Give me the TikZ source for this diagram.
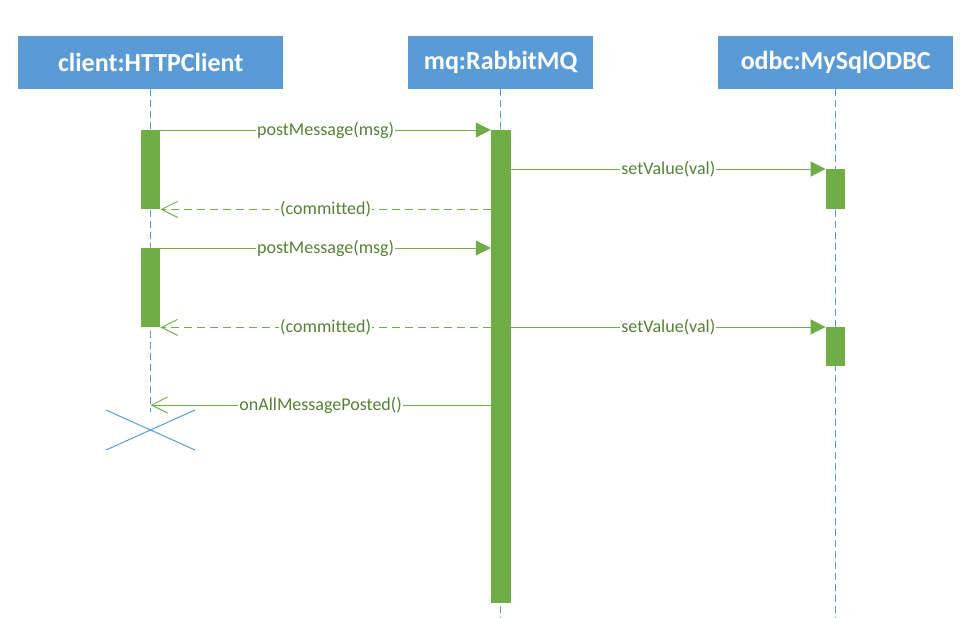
\documentclass[tikz,border=0pt]{standalone}
\usepackage{fontspec}
\setmainfont{Carlito}[Ligatures={NoCommon}]
\usetikzlibrary{arrows.meta,calc}
\definecolor{headblue}{HTML}{5B9BD5}
\definecolor{actgreen}{HTML}{70AD47}
\definecolor{txtgreen}{HTML}{548235}
\tikzset{
  head/.style={fill=headblue, draw=none, text=white, font=\fontsize{26}{28}\selectfont\bfseries, minimum height=53pt, inner sep=0pt, anchor=north west},
  lifeline/.style={draw=headblue, line width=1pt, dash pattern=on 7pt off 4pt},
  actbar/.style={fill=actgreen, draw=none, minimum width=19.5pt, inner sep=0pt, anchor=north},
  callmsg/.style={draw=actgreen, line width=1pt, -{Triangle[length=15pt,width=15pt]}},
  retmsg/.style={draw=actgreen, line width=1pt, dash pattern=on 8pt off 5pt, -{Straight Barb[length=16pt,width=16pt]}},
  plainret/.style={draw=actgreen, line width=1pt, -{Straight Barb[length=16pt,width=16pt]}},
  msglabel/.style={fill=white, text=txtgreen, inner sep=1pt, font=\fontsize{18}{20}\selectfont},
}
\begin{document}
\begin{tikzpicture}[x=1pt,y=-1pt]
\useasboundingbox (0,0) rectangle (975,618);
% heads
\node[head, minimum width=265pt] (hc) at (18,36) {client:HTTPClient};
\node[head, minimum width=185pt] (hm) at (408,36) {mq:RabbitMQ};
\node[head, minimum width=235pt] (ho) at (718,36) {odbc:MySqlODBC};
% lifeline ends
\coordinate (xc) at (150.5,430);
\coordinate (lce) at (150.5,412);
\coordinate (lme) at (500.5,618);
\coordinate (loe) at (835.5,618);
\draw[lifeline] (hc.south -| lce) -- (lce);
\draw[lifeline] (hm.south -| lme) -- (lme);
\draw[lifeline] (ho.south -| loe) -- (loe);
% activation bars
\node[actbar, minimum height=79pt] (c1) at (150.5,130) {};
\node[actbar, minimum height=79pt] (c2) at (150.5,248) {};
\node[actbar, minimum height=473pt, minimum width=20pt] (m1) at (501,130) {};
\node[actbar, minimum height=40pt] (o1) at (835.5,169) {};
\node[actbar, minimum height=39pt] (o2) at (835.5,327) {};
% destruction
\draw[headblue, line width=1pt] ($(xc)+(-44.5,-20)$) -- ($(xc)+(44.5,20)$);
\draw[headblue, line width=1pt] ($(xc)+(-44.5,20)$) -- ($(xc)+(44.5,-20)$);
% messages
\draw[callmsg] (c1.north east) -- node[msglabel]{postMessage(msg)} (c1.north east -| m1.west);
\draw[callmsg] (m1.east |- o1.north west) -- node[msglabel]{setValue(val)} (o1.north west);
\draw[retmsg] (m1.west |- c1.south east) -- node[msglabel]{(committed)} (c1.south east);
\draw[callmsg] (c2.north east) -- node[msglabel]{postMessage(msg)} (c2.north east -| m1.west);
\draw[retmsg] (m1.west |- c2.south east) -- node[msglabel]{(committed)} (c2.south east);
\draw[callmsg] (m1.east |- o2.north west) -- node[msglabel]{setValue(val)} (o2.north west);
\coordinate (endc) at (150.5,405);
\draw[plainret] (m1.west |- endc) -- node[msglabel]{onAllMessagePosted()} (endc);
\end{tikzpicture}
\end{document}
